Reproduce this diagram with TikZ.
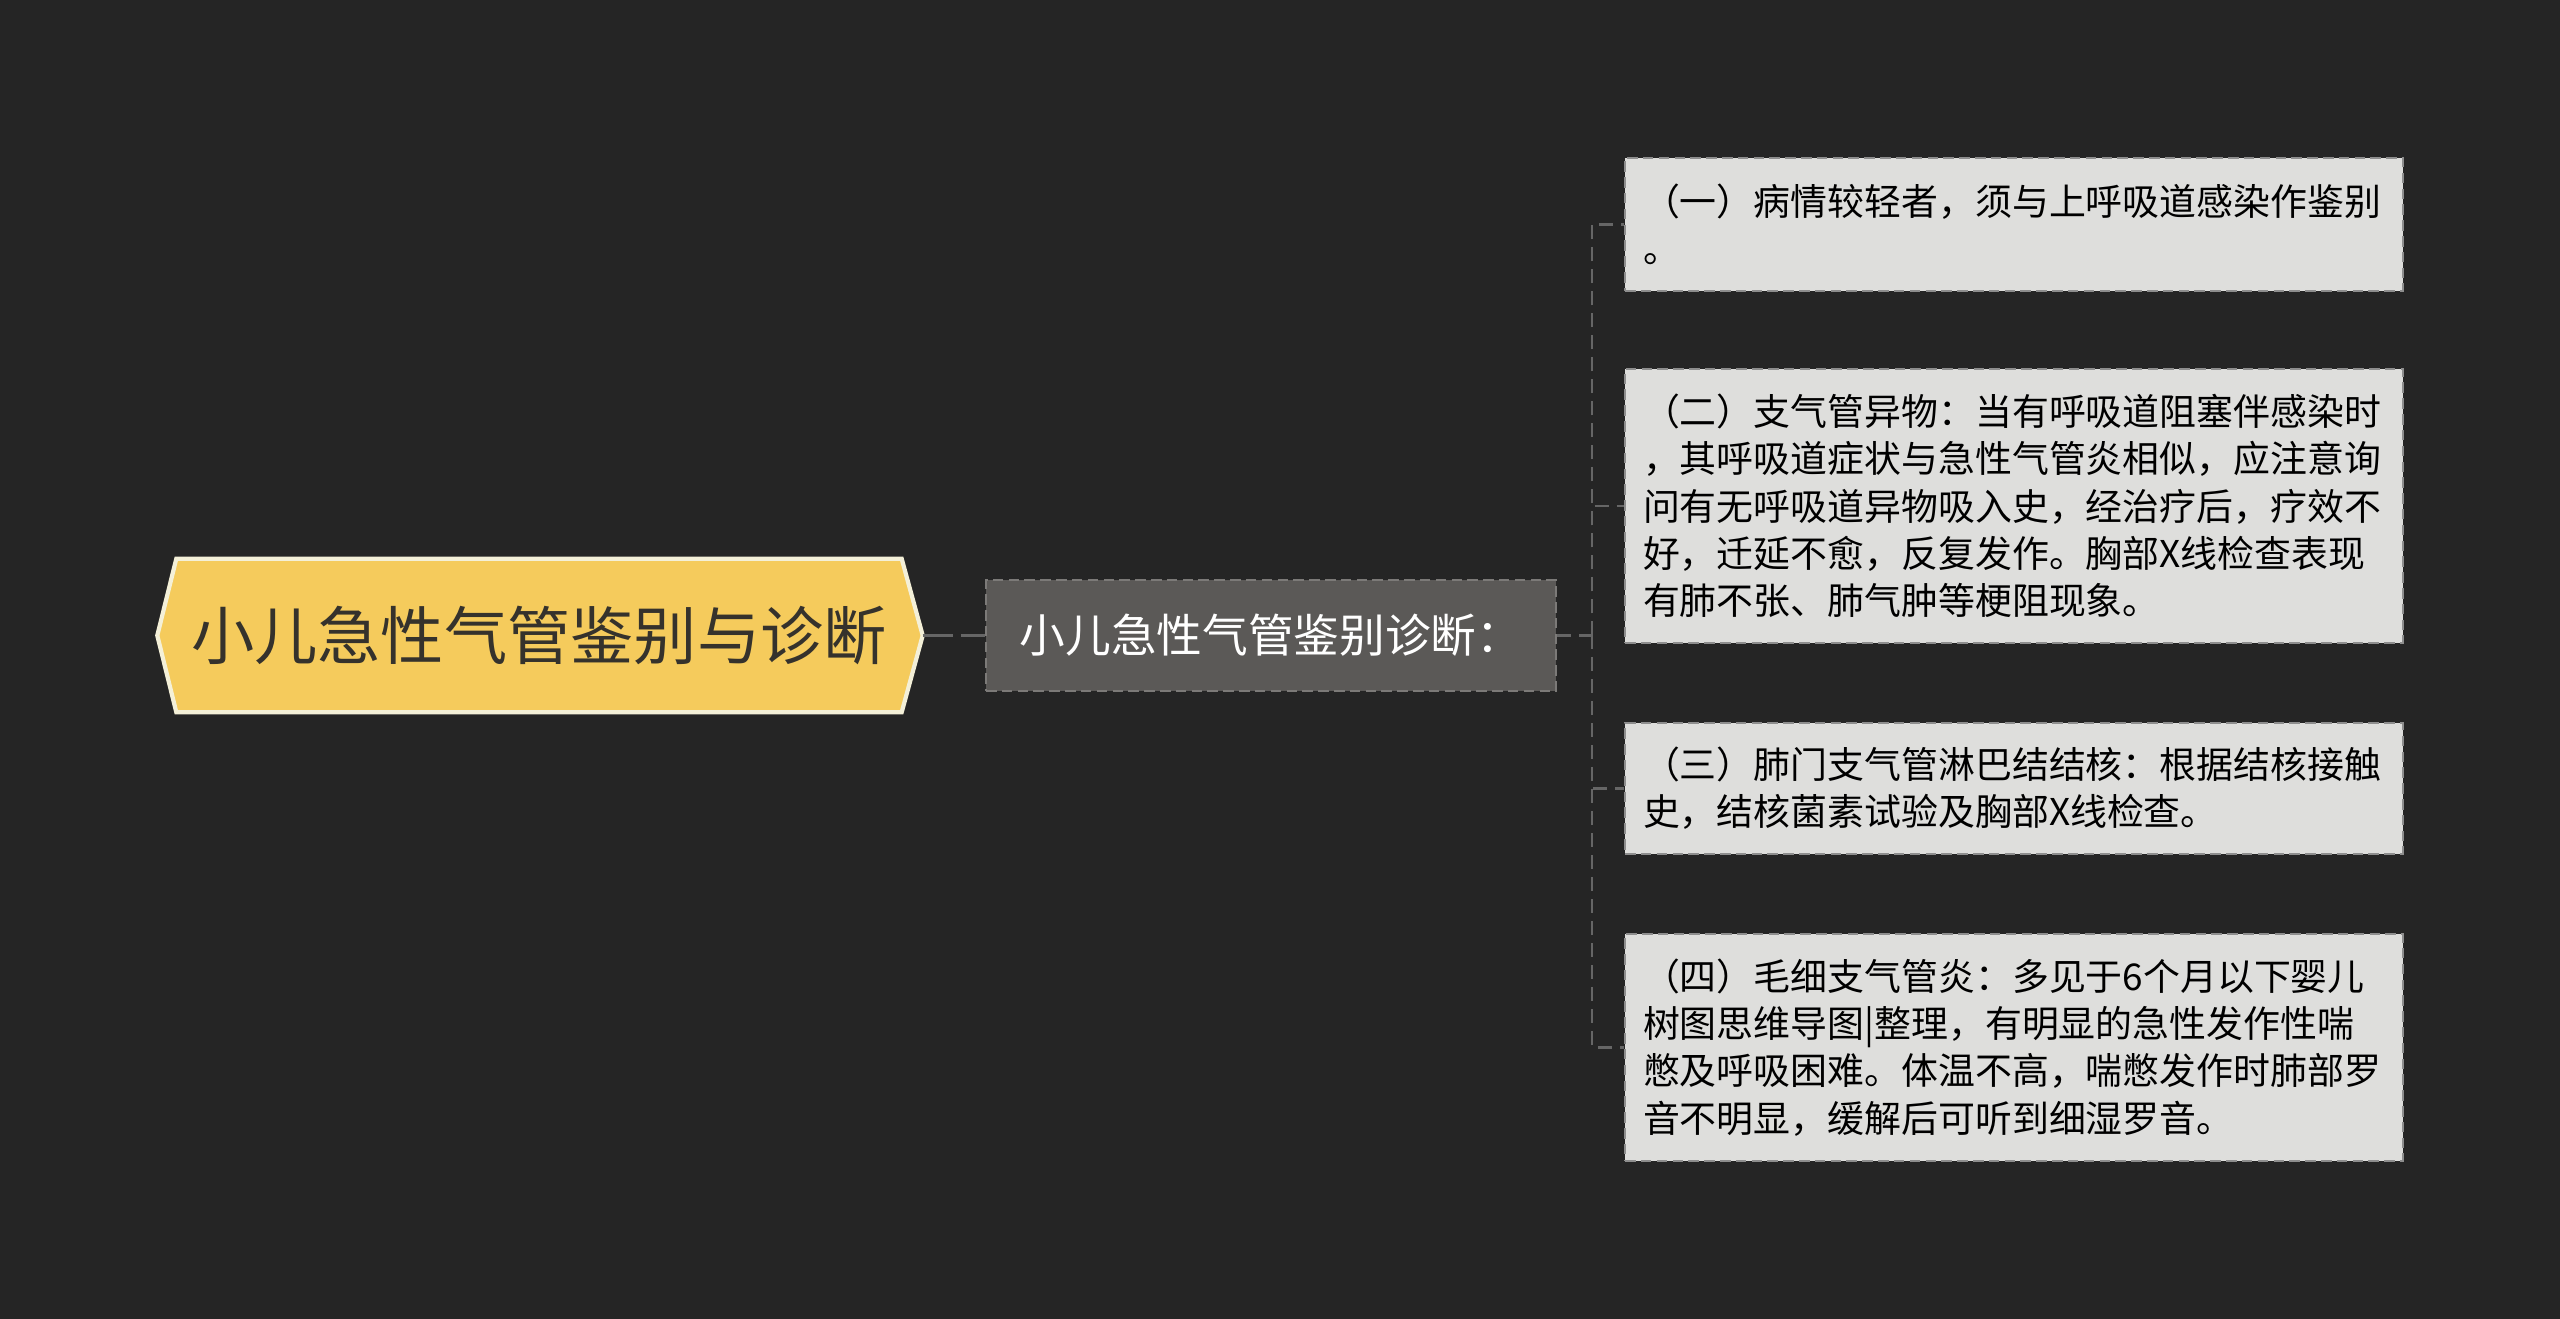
\documentclass[tikz,border=0pt]{standalone}
\usepackage{fontspec}
\setmainfont{Noto Sans CJK SC}
\usetikzlibrary{backgrounds}

\definecolor{bgdark}{HTML}{252525}
\definecolor{rootfill}{HTML}{F5CB5C}
\definecolor{rootline}{HTML}{F4F0D8}
\definecolor{roottext}{HTML}{35322C}
\definecolor{midfill}{HTML}{5B5957}
\definecolor{midline}{HTML}{7C7A78}
\definecolor{leaffill}{HTML}{DEDEDC}
\definecolor{leafline}{HTML}{8E8E8E}
\definecolor{linkgray}{HTML}{666666}

\begin{document}
\begin{tikzpicture}[
    rootbox/.style={minimum width=7.24cm, minimum height=1.52cm, inner sep=0pt,
        text=roottext, font=\fontsize{18}{22}\selectfont},
    midbox/.style={fill=midfill, draw=midline, dash pattern=on 3pt off 1.5pt, line width=0.6pt,
        minimum width=5.7cm, minimum height=1.11cm, inner sep=0pt,
        text=white, font=\fontsize{13}{16}\selectfont},
    leafbox/.style={fill=leaffill, draw=leafline, dash pattern=on 3pt off 1.5pt, line width=0.6pt,
        text width=7.42cm, inner xsep=0.18cm, inner ysep=0pt, align=left, anchor=west,
        text=black, font=\fontsize{10.5}{13.46}\selectfont},
    link/.style={draw=linkgray, line width=1pt, dash pattern=on 0.3cm off 0.08cm},
    trunk/.style={draw=linkgray, line width=0.6pt, dash pattern=on 0.14cm off 0.08cm}
]
    \useasboundingbox (0, 0) rectangle (25.6, 13.19);

    \node[rootbox] (root) at (5.39, 6.835) {小儿急性气管鉴别与诊断};
    \coordinate (roottip) at ([xshift=0.21cm]root.east);
    \coordinate (roottail) at ([xshift=-0.19cm]root.west);

    \node[midbox] (mid) at (12.71, 6.835) {小儿急性气管鉴别诊断：};

    \node[leafbox, minimum height=1.33cm] (b1) at (16.24, 10.945)
        {（一）病情较轻者，须与上呼吸道感染作鉴别\\。};
    \node[leafbox, minimum height=2.74cm] (b2) at (16.24, 8.13)
        {（二）支气管异物：当有呼吸道阻塞伴感染时\\，其呼吸道症状与急性气管炎相似，应注意询\\问有无呼吸道异物吸入史，经治疗后，疗效不\\好，迁延不愈，反复发作。胸部X线检查表现\\有肺不张、肺气肿等梗阻现象。};
    \node[leafbox, minimum height=1.31cm] (b3) at (16.24, 5.305)
        {（三）肺门支气管淋巴结结核：根据结核接触\\史，结核菌素试验及胸部X线检查。};
    \node[leafbox, minimum height=2.27cm] (b4) at (16.24, 2.715)
        {（四）毛细支气管炎：多见于6个月以下婴儿\\树图思维导图|整理，有明显的急性发作性喘\\憋及呼吸困难。体温不高，喘憋发作时肺部罗\\音不明显，缓解后可听到细湿罗音。};

    % connectors
    \draw[link] (roottip) -- (mid.west);
    \coordinate (fork) at (15.92, 6.835);
    \draw[trunk] (mid.east) -- (fork);
    \foreach \b in {b1,b2,b3,b4} {
        \draw[trunk] (fork) |- (\b.west);
    }

    \begin{scope}[on background layer]
        \fill[bgdark] (0, 0) rectangle (25.6, 13.19);
        \draw[fill=rootfill, draw=rootline, line width=1.2pt]
            (root.north west) -- (root.north east) -- (roottip) -- (root.south east)
            -- (root.south west) -- (roottail) -- cycle;
    \end{scope}
\end{tikzpicture}
\end{document}
